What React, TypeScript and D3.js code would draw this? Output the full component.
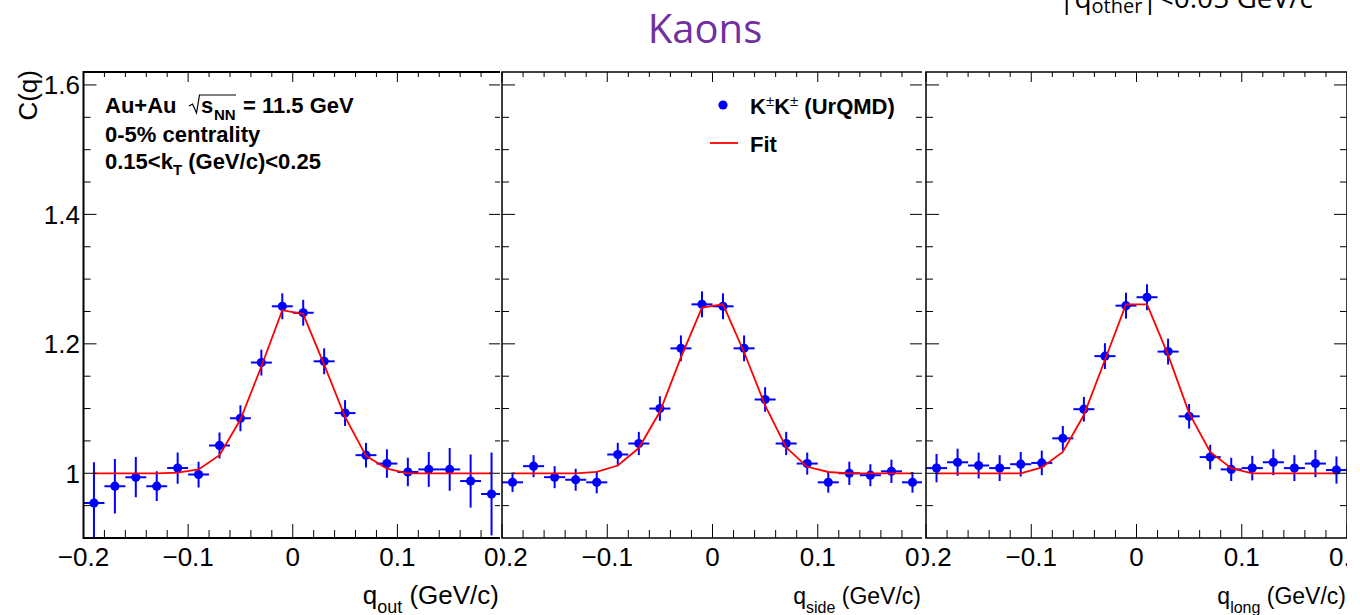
import React from 'react';
import * as d3 from 'd3';

// ---------- data ----------
const qCenters = [-0.19, -0.17, -0.15, -0.13, -0.11, -0.09, -0.07, -0.05, -0.03, -0.01,
  0.01, 0.03, 0.05, 0.07, 0.09, 0.11, 0.13, 0.15, 0.17, 0.19];

const cOut = [0.954, 0.980, 0.994, 0.980, 1.008, 0.998, 1.043, 1.085, 1.171, 1.258,
  1.248, 1.173, 1.093, 1.028, 1.015, 1.002, 1.006, 1.006, 0.988, 0.968];
const errOut = [0.063, 0.042, 0.031, 0.023, 0.024, 0.020, 0.020, 0.020, 0.020, 0.020,
  0.020, 0.020, 0.020, 0.019, 0.022, 0.022, 0.027, 0.033, 0.041, 0.064];
const fitOut = [1.000, 1.000, 1.000, 1.000, 1.001, 1.006, 1.028, 1.083, 1.165, 1.252,
  1.246, 1.168, 1.087, 1.027, 1.007, 1.000, 1.000, 1.000, 1.000, 1.000];

const cSide = [0.986, 1.011, 0.994, 0.990, 0.986, 1.029, 1.046, 1.100, 1.193, 1.261,
  1.258, 1.193, 1.114, 1.046, 1.015, 0.986, 1.000, 0.997, 1.003, 0.986];
const errSide = [0.015, 0.017, 0.017, 0.017, 0.017, 0.018, 0.018, 0.019, 0.020, 0.020,
  0.020, 0.020, 0.019, 0.018, 0.017, 0.016, 0.018, 0.017, 0.018, 0.016];
const fitSide = [1.000, 1.000, 1.000, 1.000, 1.002, 1.012, 1.039, 1.095, 1.179, 1.256,
  1.261, 1.187, 1.105, 1.040, 1.010, 1.002, 1.000, 1.000, 1.000, 1.000];

const cLong = [1.008, 1.017, 1.012, 1.008, 1.014, 1.016, 1.054, 1.099, 1.181, 1.259,
  1.272, 1.188, 1.088, 1.025, 1.006, 1.008, 1.017, 1.008, 1.015, 1.005];
const errLong = [0.022, 0.021, 0.020, 0.020, 0.019, 0.019, 0.019, 0.019, 0.020, 0.020,
  0.020, 0.020, 0.019, 0.019, 0.018, 0.019, 0.020, 0.020, 0.021, 0.021];
const fitLong = [1.000, 1.000, 1.000, 1.000, 1.000, 1.009, 1.033, 1.090, 1.175, 1.261,
  1.261, 1.183, 1.093, 1.033, 1.008, 1.000, 1.000, 1.000, 1.000, 1.000];

const binHalfWidth = 0.01;
const xMajorTicks = [-0.2, -0.1, 0, 0.1, 0.2];
const xTickLabels = ['\u22120.2', '\u22120.1', '0', '0.1', '0.2'];
const yMajorTicks = [1.0, 1.2, 1.4, 1.6];
const yTickLabels = ['1', '1.2', '1.4', '1.6'];
const xMinorStep = 0.02;
const yMinorStep = 0.05;

// ---------- layout ----------
const W = 1360;
const H = 615;
const TOP = 72;
const BOTTOM = 538;
const FONT = '"Liberation Sans", Arial, Helvetica, sans-serif';

const yScale = d3.scaleLinear().domain([0.9, 1.62]).range([BOTTOM, TOP]);

const panelLayout = [
  { x0: 83.5, x1: 502, clip0: 0, clip1: 500, sub: 'out', c: cOut, e: errOut, fit: fitOut, tSize: 26, subSize: 18 },
  { x0: 502, x1: 923, clip0: 500, clip1: 922, sub: 'side', c: cSide, e: errSide, fit: fitSide, tSize: 23, subSize: 16 },
  { x0: 926, x1: 1347, clip0: 922, clip1: 1347, sub: 'long', c: cLong, e: errLong, fit: fitLong, tSize: 23, subSize: 16 },
];

const xMinor = d3.range(-10, 11).filter((i) => i % 5 !== 0).map((i) => i * xMinorStep);
const yMinor = d3.range(19, 33).filter((i) => i % 4 !== 0).map((i) => i * yMinorStep);

function Panel({ p, idx }: { p: any; idx: number }) {
  const x = d3.scaleLinear().domain([-0.2, 0.2]).range([p.x0, p.x1]);
  const line = d3.line<number>()
    .x((_, i) => x(qCenters[i]))
    .y((d) => yScale(d));
  const tickPath: string[] = [];
  // x ticks bottom & top
  xMajorTicks.forEach((t) => {
    const px = x(t);
    tickPath.push(`M${px},${BOTTOM}V${BOTTOM - 14}`);
    tickPath.push(`M${px},${TOP}V${TOP + 10}`);
  });
  xMinor.forEach((t) => {
    const px = x(t);
    tickPath.push(`M${px},${BOTTOM}V${BOTTOM - 8}`);
    tickPath.push(`M${px},${TOP}V${TOP + 5}`);
  });
  yMajorTicks.forEach((t) => {
    const py = yScale(t);
    tickPath.push(`M${p.x0},${py}H${p.x0 + 13}`);
    tickPath.push(`M${p.x1},${py}H${p.x1 - 13}`);
  });
  yMinor.forEach((t) => {
    const py = yScale(t);
    tickPath.push(`M${p.x0},${py}H${p.x0 + 7}`);
    tickPath.push(`M${p.x1},${py}H${p.x1 - 7}`);
  });

  return (
    <g>
      <defs>
        <clipPath id={`pad${idx}`}>
          <rect x={p.clip0} y={0} width={p.clip1 - p.clip0} height={H} />
        </clipPath>
        <clipPath id={`frame${idx}`}>
          <rect x={p.x0} y={TOP} width={p.x1 - p.x0} height={BOTTOM - TOP} />
        </clipPath>
      </defs>
      <g clipPath={`url(#pad${idx})`}>
        {/* data points */}
        <g clipPath={`url(#frame${idx})`}>
          {p.c.map((v: number, i: number) => {
            const cx = x(qCenters[i]);
            const cy = yScale(v);
            return (
              <g key={i} stroke="#0000ff" strokeWidth={2}>
                <line x1={x(qCenters[i] - binHalfWidth)} x2={x(qCenters[i] + binHalfWidth)} y1={cy} y2={cy} />
                <line x1={cx} x2={cx} y1={yScale(v - p.e[i])} y2={yScale(v + p.e[i])} />
                <circle cx={cx} cy={cy} r={4.6} fill="#0000ff" stroke="none" />
              </g>
            );
          })}
          <path d={line(p.fit) || ''} fill="none" stroke="#ff0000" strokeWidth={1.8} />
        </g>
        {/* frame */}
        <rect x={p.x0} y={TOP} width={p.x1 - p.x0} height={BOTTOM - TOP} fill="none" stroke="#000" strokeWidth={idx === 0 ? 2 : 1.5} />
        <path d={tickPath.join('')} stroke="#000" strokeWidth={1} fill="none" />
        {/* x tick labels */}
        {xMajorTicks.map((t, i) => (
          <text key={i} x={x(t)} y={566} textAnchor="middle" fontSize={26} fontFamily={FONT} fill="#000">
            {xTickLabels[i]}
          </text>
        ))}
        {/* x axis title */}
        <text x={p.clip1 - 1} y={604} textAnchor="end" fontSize={p.tSize} fontFamily={FONT} fill="#000">
          q<tspan fontSize={p.subSize} dy={9}>{p.sub}</tspan>
          <tspan fontSize={p.tSize} dy={-9}>{' (GeV/c)'}</tspan>
        </text>
      </g>
    </g>
  );
}

export default function App() {
  return (
    <svg width={W} height={H} style={{ position: 'absolute', left: 0, top: 0, background: '#fff' }}
      xmlns="http://www.w3.org/2000/svg">
      <rect x={0} y={0} width={W} height={H} fill="#fff" />
      {/* title */}
      <text x={705} y={43} textAnchor="middle" fontSize={40} fontFamily='"Open Sans", "Noto Sans", sans-serif' fill="#7030a0">
        Kaons
      </text>
      {/* top right cut-off note */}
      <text x={1059} y={8} fontSize={28} fontFamily='"Open Sans", "Noto Sans", sans-serif' fill="#000">
        |q<tspan fontSize={20} dy={5}>other</tspan><tspan fontSize={28} dy={-5}>{'|<0.05 GeV/c'}</tspan>
      </text>

      {panelLayout.map((p, i) => <Panel key={i} p={p} idx={i} />)}

      {/* y axis labels */}
      {yMajorTicks.map((t, i) => (
        <text key={i} x={80} y={yScale(t) + 9.5} textAnchor="end" fontSize={26} fontFamily={FONT} fill="#000">
          {yTickLabels[i]}
        </text>
      ))}
      <text transform="translate(37,70) rotate(-90)" textAnchor="end" fontSize={26} fontFamily={FONT} fill="#000">
        C(q)
      </text>

      {/* annotation panel 1 */}
      <g fontFamily={FONT} fontWeight="bold" fontSize={22} fill="#000">
        <text x={105} y={113}>Au+Au</text>
        <path d="M189,106 L192.5,104 L196.5,113 L199.5,95 L236,95" fill="none" stroke="#000" strokeWidth={1.2} />
        <text x={201} y={113}>s</text>
        <text x={214} y={120} fontSize={15}>NN</text>
        <text x={243} y={113}>= 11.5 GeV</text>
        <text x={105} y={142}>0-5% centrality</text>
        <text x={105} y={169}>
          0.15&lt;k<tspan fontSize={15} dy={6}>T</tspan><tspan fontSize={22} dy={-6}>{' (GeV/c)<0.25'}</tspan>
        </text>
      </g>

      {/* legend */}
      <g fontFamily={FONT} fontSize={22} fill="#000">
        <circle cx={723} cy={105} r={4.6} fill="#0000ff" />
        <text x={750} y={114} fontWeight="bold">
          K<tspan fontSize={15} fontWeight="normal" dy={-8}>±</tspan>
          <tspan dy={8}>K</tspan>
          <tspan fontSize={15} fontWeight="normal" dy={-8}>±</tspan>
          <tspan dy={8}>{' (UrQMD)'}</tspan>
        </text>
        <line x1={710} x2={738} y1={143} y2={143} stroke="#ff0000" strokeWidth={1.8} />
        <text x={750} y={152} fontWeight="bold">Fit</text>
      </g>
    </svg>
  );
}
